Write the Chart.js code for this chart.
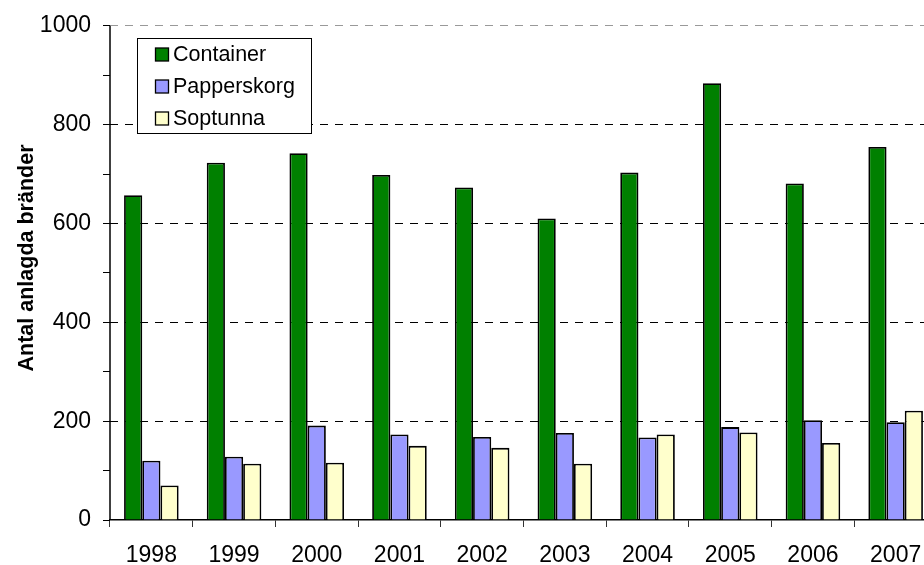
<!DOCTYPE html>
<html>
<head>
<meta charset="utf-8">
<script src="https://cdn.jsdelivr.net/npm/chart.js@4/dist/chart.umd.min.js"></script>
<style>
  html, body { margin: 0; padding: 0; background: #fff; overflow: hidden; }
  #wrap { width: 924px; height: 565px; overflow: hidden; }
</style>
</head>
<body>
<div id="wrap">
  <canvas id="grafica" width="937" height="565"></canvas>
</div>
<script>
/* Datos del diagrama */
const years = ['1998', '1999', '2000', '2001', '2002', '2003', '2004', '2005', '2006', '2007'];
const container = [657, 723, 742, 698, 673, 610, 703, 884, 681, 755];
const papperskorg = [120, 128, 191, 173, 168, 176, 167, 188, 202, 198];
const soptunna = [70, 114, 116, 150, 146, 114, 173, 177, 156, 221];

const yTitle = 'Antal anlagda bränder';
const fontName = '"Liberation Sans", Arial, sans-serif';

// leyenda dentro del área + eje vertical continuo
const legendBox = {
    id: 'legendBox',
    afterDatasetsDraw(chart) {
        const a = chart.chartArea;
        const c = chart.ctx;
        c.save();
        c.strokeStyle = '#000';
        c.lineWidth = 1.5;
        c.beginPath();
        c.moveTo(a.left, a.top);
        c.lineTo(a.left, a.bottom);
        c.stroke();
        c.restore();
    },
    afterDraw(chart) {
        const ctx = chart.ctx;
        const x = 137, y = 38, w = 174, h = 95;
        ctx.save();
        ctx.fillStyle = '#fff';
        ctx.fillRect(x, y, w, h);
        ctx.strokeStyle = '#000';
        ctx.lineWidth = 1;
        ctx.strokeRect(x + 0.5, y + 0.5, w, h);
        ctx.font = '21.5px ' + fontName;
        ctx.textBaseline = 'middle';
        chart.data.datasets.forEach(function(ds, i) {
            let cy = 54.5 + i * 32;
            ctx.fillStyle = ds.backgroundColor;
            ctx.fillRect(155.5, cy - 6.5, 13, 13);
            ctx.strokeStyle = '#000';
            ctx.lineWidth = 1.3;
            ctx.strokeRect(155.5, cy - 6.5, 13, 13);
            ctx.fillStyle = '#000';
            ctx.fillText(ds.label, 173, cy + 1);
        });
        ctx.restore();
    }
};

function barSet(label, data, color) {
    return {
        label: label,
        data: data,
        backgroundColor: color,
        borderColor: '#000',
        borderWidth: 1.8,
        categoryPercentage: 0.66,
        barPercentage: 1.0
    };
}

let ctx = document.getElementById('grafica').getContext('2d');
let grafica = new Chart(ctx, {
    type: 'bar',
    data: {
        labels: years,
        datasets: [
            barSet('Container', container, '#008000'),
            barSet('Papperskorg', papperskorg, '#9999FF'),
            barSet('Soptunna', soptunna, '#FFFFCC')
        ]
    },
    options: {
        responsive: false,
        animation: false,
        layout: { padding: { top: 12, right: 0, bottom: 0, left: 0 } },
        plugins: {
            legend: { display: false },
            tooltip: { enabled: false }
        },
        scales: {
            x: {
                offset: true,
                grid: {
                    offset: true,
                    drawOnChartArea: false,
                    color: '#333',
                    tickLength: 7
                },
                border: { color: '#000', width: 1.5 },
                ticks: {
                    color: '#000',
                    padding: 15,
                    maxRotation: 0,
                    font: { family: fontName, size: 23 }
                },
                afterFit: function(scale) { scale.height = 45; }
            },
            y: {
                min: 0,
                max: 1000,
                ticks: {
                    stepSize: 100,
                    color: '#000',
                    padding: 12,
                    font: { family: fontName, size: 23 },
                    callback: function(v) { return v % 200 === 0 ? v : ''; }
                },
                grid: {
                    color: function(c) {
                        if (c.tick.value === 1000) return '#999';
                        if (c.tick.value % 200 === 0 && c.tick.value > 0) return '#000';
                        return 'rgba(0,0,0,0)';
                    },
                    tickColor: '#000',
                    tickLength: 7,
                    lineWidth: 1
                },
                border: { display: false, dash: [8, 7] },
                title: {
                    display: true,
                    text: '\u00a0\u00a0\u00a0\u00a0\u00a0' + yTitle,
                    color: '#000',
                    font: { family: fontName, size: 21.5, weight: 'bold' },
                    padding: { top: 14, bottom: 0 }
                },
                afterFit: function(scale) { scale.width = 110; }
            }
        }
    },
    plugins: [legendBox]
});
</script>
</body>
</html>
